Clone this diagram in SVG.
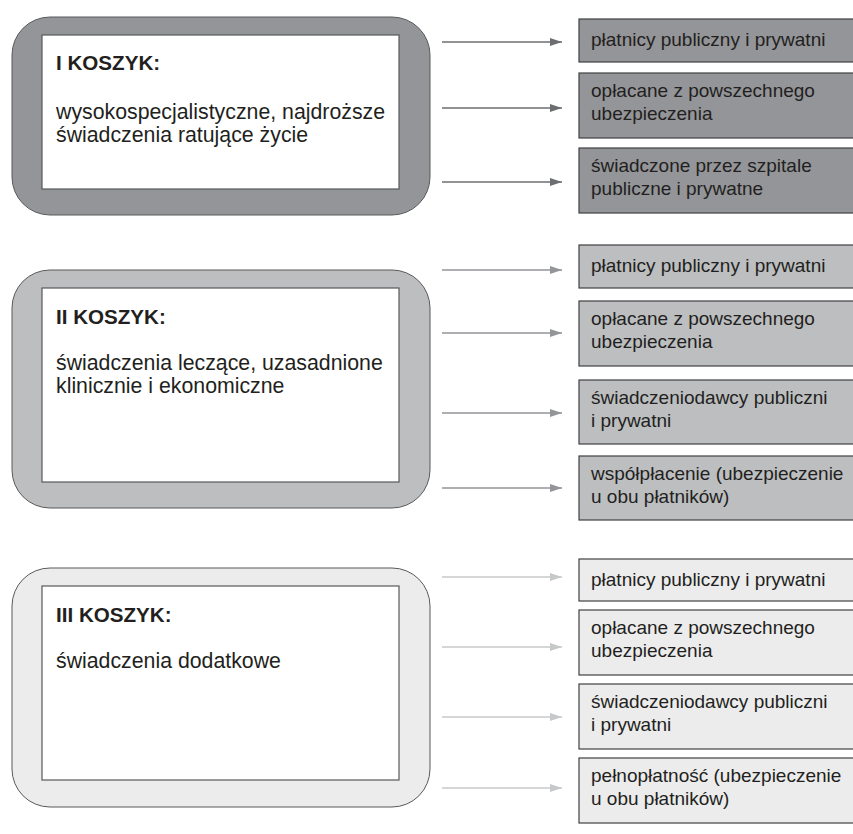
<svg xmlns="http://www.w3.org/2000/svg" width="853" height="834" viewBox="0 0 853 834">
<style>
text{font-family:"Liberation Sans",Arial,sans-serif;fill:#231f20}
.t{font-size:20.6px;font-weight:bold}
.b{font-size:21.3px}
.s{font-size:19px}
.outer{stroke:#58595b;stroke-width:1}
.inner{fill:#fff;stroke:#58595b;stroke-width:1.2}
.box{stroke:#414042;stroke-width:1.2}
.g1{fill:#939598}
.g2{fill:#bcbec0}
.g3{fill:#ececed}
.a1{stroke:#6d6e71;stroke-width:1.5}
.a2{stroke:#939598;stroke-width:1.5}
.a3{stroke:#c7c8ca;stroke-width:1.5}
</style>
<defs>
<marker id="m1" markerWidth="12" markerHeight="8" refX="12" refY="4" orient="auto" markerUnits="userSpaceOnUse"><polygon points="0,0 12,4 0,8" fill="#6d6e71"/></marker>
<marker id="m2" markerWidth="12" markerHeight="8" refX="12" refY="4" orient="auto" markerUnits="userSpaceOnUse"><polygon points="0,0 12,4 0,8" fill="#939598"/></marker>
<marker id="m3" markerWidth="12" markerHeight="8" refX="12" refY="4" orient="auto" markerUnits="userSpaceOnUse"><polygon points="0,0 12,4 0,8" fill="#c7c8ca"/></marker>
</defs>

<g id="koszyk1">
<rect class="outer g1" x="12" y="17" width="418" height="198" rx="38"/>
<rect class="inner" x="42" y="35" width="357" height="154"/>
<text class="t" x="56" y="70">I KOSZYK:</text>
<text class="b" x="56" y="119">wysokospecjalistyczne, najdroższe</text>
<text class="b" x="56" y="142">świadczenia ratujące życie</text>
</g>
<g id="koszyk2">
<rect class="outer g2" x="12" y="270" width="418" height="238" rx="38"/>
<rect class="inner" x="42" y="288" width="357" height="194"/>
<text class="t" x="56" y="324">II KOSZYK:</text>
<text class="b" x="56" y="370">świadczenia leczące, uzasadnione</text>
<text class="b" x="56" y="393">klinicznie i ekonomiczne</text>
</g>
<g id="koszyk3">
<rect class="outer g3" x="12" y="568" width="418" height="239" rx="38"/>
<rect class="inner" x="42" y="586" width="357" height="194"/>
<text class="t" x="56" y="622">III KOSZYK:</text>
<text class="b" x="56" y="668">świadczenia dodatkowe</text>
</g>

<g id="k1b1"><rect class="box g1" x="579" y="19" width="280" height="43"/><text class="s" x="591" y="46">płatnicy publiczny i prywatni</text></g>
<g id="k1b2"><rect class="box g1" x="579" y="73" width="280" height="65"/><text class="s" x="591" y="97">opłacane z powszechnego</text><text class="s" x="591" y="120">ubezpieczenia</text></g>
<g id="k1b3"><rect class="box g1" x="579" y="148" width="280" height="65"/><text class="s" x="591" y="172">świadczone przez szpitale</text><text class="s" x="591" y="195">publiczne i prywatne</text></g>

<g id="k2b1"><rect class="box g2" x="579" y="245" width="280" height="43"/><text class="s" x="591" y="272">płatnicy publiczny i prywatni</text></g>
<g id="k2b2"><rect class="box g2" x="579" y="301" width="280" height="65"/><text class="s" x="591" y="325">opłacane z powszechnego</text><text class="s" x="591" y="348">ubezpieczenia</text></g>
<g id="k2b3"><rect class="box g2" x="579" y="380" width="280" height="64"/><text class="s" x="591" y="404">świadczeniodawcy publiczni</text><text class="s" x="591" y="427">i prywatni</text></g>
<g id="k2b4"><rect class="box g2" x="579" y="456" width="280" height="64"/><text class="s" x="591" y="480">współpłacenie (ubezpieczenie</text><text class="s" x="591" y="503">u obu płatników)</text></g>

<g id="k3b1"><rect class="box g3" x="579" y="559" width="280" height="42"/><text class="s" x="591" y="586">płatnicy publiczny i prywatni</text></g>
<g id="k3b2"><rect class="box g3" x="579" y="610" width="280" height="65"/><text class="s" x="591" y="634">opłacane z powszechnego</text><text class="s" x="591" y="657">ubezpieczenia</text></g>
<g id="k3b3"><rect class="box g3" x="579" y="684" width="280" height="65"/><text class="s" x="591" y="708">świadczeniodawcy publiczni</text><text class="s" x="591" y="731">i prywatni</text></g>
<g id="k3b4"><rect class="box g3" x="579" y="758" width="280" height="65"/><text class="s" x="591" y="782">pełnopłatność (ubezpieczenie</text><text class="s" x="591" y="805">u obu płatników)</text></g>

<g id="connectors">
<line class="a1" x1="442" y1="42" x2="562" y2="42" marker-end="url(#m1)"/>
<line class="a1" x1="442" y1="108" x2="562" y2="108" marker-end="url(#m1)"/>
<line class="a1" x1="442" y1="182" x2="562" y2="182" marker-end="url(#m1)"/>
<line class="a2" x1="442" y1="270" x2="562" y2="270" marker-end="url(#m2)"/>
<line class="a2" x1="442" y1="333" x2="562" y2="333" marker-end="url(#m2)"/>
<line class="a2" x1="442" y1="413" x2="562" y2="413" marker-end="url(#m2)"/>
<line class="a2" x1="442" y1="488" x2="562" y2="488" marker-end="url(#m2)"/>
<line class="a3" x1="442" y1="577" x2="562" y2="577" marker-end="url(#m3)"/>
<line class="a3" x1="442" y1="647" x2="562" y2="647" marker-end="url(#m3)"/>
<line class="a3" x1="442" y1="717" x2="562" y2="717" marker-end="url(#m3)"/>
<line class="a3" x1="442" y1="788" x2="562" y2="788" marker-end="url(#m3)"/>
</g>
</svg>
